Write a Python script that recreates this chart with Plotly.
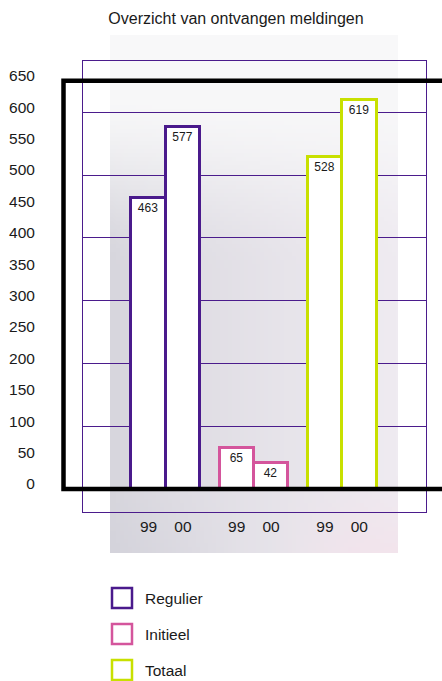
import base64
import struct
import zlib

import numpy as np
import plotly.graph_objects as go

# ---- data -------------------------------------------------------------
TITLE = "Overzicht van ontvangen meldingen"
SERIES = ["Regulier", "Initieel", "Totaal"]
YEARS = ["99", "00"]
REGULIER = [463, 577]
INITIEEL = [65, 42]
TOTAAL = [528, 619]
VALUES = [REGULIER, INITIEEL, TOTAAL]
Y_TICKS = list(range(0, 651, 50))
GRID_LINES = [100, 200, 300, 400, 500, 600]

# ---- style ------------------------------------------------------------
COLORS = ["#4a1a8c", "#d4559c", "#c8e000"]
GRID_COLOR = "#4b1c8c"
FONT = "Liberation Sans, Arial, Helvetica, sans-serif"
TEXT_COLOR = "#1a1a1a"
BAR_W = 0.39

W, H = 442, 681
M_L, M_R, M_T, M_B = 83, 16, 61, 169
PW, PH = W - M_L - M_R, H - M_T - M_B


def px_to_paper(x=None, y=None):
    """Convert page pixels to paper coordinates of the plotting area."""
    out = []
    if x is not None:
        out.append((x - M_L) / PW)
    if y is not None:
        out.append((H - M_B - y) / PH)
    return out[0] if len(out) == 1 else tuple(out)


def png_data_uri(rgb):
    """Encode an (h, w, 3) uint8 array as a PNG data URI."""
    h, w, _ = rgb.shape
    raw = b"".join(b"\x00" + rgb[r].tobytes() for r in range(h))

    def chunk(tag, data):
        c = struct.pack(">I", len(data)) + tag + data
        return c + struct.pack(">I", zlib.crc32(tag + data) & 0xFFFFFFFF)

    png = b"\x89PNG\r\n\x1a\n"
    png += chunk(b"IHDR", struct.pack(">IIBBBBB", w, h, 8, 2, 0, 0, 0))
    png += chunk(b"IDAT", zlib.compress(raw, 9))
    png += chunk(b"IEND", b"")
    return "data:image/png;base64," + base64.b64encode(png).decode()


def backdrop():
    """Soft lavender/grey backdrop panel behind the chart."""
    iw, ih = 72, 130
    u = np.linspace(0, 1, iw)[None, :, None]
    v = np.linspace(0, 1, ih)[:, None, None]
    left = np.array([215, 214, 221], float)
    right = np.array([239, 235, 241], float)
    base = left + (right - left) * (u ** 0.8)
    white = np.array([248, 248, 249], float)
    t = np.clip((v - 0.10) / 0.36, 0, 1)
    t = t * t * (3 - 2 * t)
    img = white + (base - white) * t
    # pinkish tint towards the lower right
    pink = np.array([244, 226, 235], float)
    pb = np.clip((v - 0.86) / 0.14, 0, 1) * np.clip((u - 0.55) / 0.3, 0, 1)
    img = img + (pink - img) * pb * 0.7
    # slightly cooler lower left
    dark = np.array([208, 207, 217], float)
    db = np.clip((v - 0.88) / 0.12, 0, 1) * np.clip(1 - u / 0.45, 0, 1)
    img = img + (dark - img) * db * 0.4
    return png_data_uri(np.clip(img, 0, 255).astype(np.uint8))


fig = go.Figure()

for gi, (name, vals, col) in enumerate(zip(SERIES, VALUES, COLORS)):
    xs = [gi + (j - 0.5) * BAR_W for j in range(len(YEARS))]
    fig.add_bar(
        x=xs,
        y=vals,
        width=BAR_W,
        name=name,
        marker=dict(color="white", line=dict(color=col, width=3)),
        text=[str(v) for v in vals],
        textposition="inside",
        insidetextanchor="end",
        textangle=0,
        constraintext="none",
        textfont=dict(family=FONT, size=12, color=TEXT_COLOR),
        cliponaxis=False,
        showlegend=False,
        hoverinfo="skip",
    )

tick_x = [gi + (j - 0.5) * BAR_W for gi in range(len(SERIES)) for j in range(len(YEARS))]
tick_t = [y for _ in SERIES for y in YEARS]

x_lo = (M_L - 165.7) / 88.2
x_hi = x_lo + PW / 88.2
px_per_unit = 0.628
y_lo = -(H - M_B - 489) / px_per_unit
y_hi = y_lo + PH / px_per_unit

fig.update_layout(
    width=W,
    height=H,
    margin=dict(l=M_L, r=M_R, t=M_T, b=M_B, autoexpand=False),
    paper_bgcolor="white",
    plot_bgcolor="rgba(0,0,0,0)",
    font=dict(family=FONT, size=15.5, color=TEXT_COLOR),
    bargap=0,
    barmode="overlay",
    title=dict(
        text=TITLE,
        x=236 / W,
        xanchor="center",
        y=1 - 18 / H,
        yanchor="middle",
        font=dict(family=FONT, size=16, color=TEXT_COLOR),
    ),
    xaxis=dict(
        range=[x_lo, x_hi],
        tickmode="array",
        tickvals=tick_x,
        ticktext=tick_t,
        ticks="",
        showgrid=False,
        zeroline=False,
        showline=True,
        mirror=True,
        linecolor=GRID_COLOR,
        linewidth=1,
        automargin=False,
        ticklabelstandoff=0,
        tickfont=dict(size=15.5),
    ),
    yaxis=dict(
        range=[y_lo, y_hi],
        tickmode="array",
        tickvals=Y_TICKS,
        ticks="",
        showgrid=False,
        zeroline=False,
        showline=True,
        mirror=True,
        linecolor=GRID_COLOR,
        linewidth=1,
        automargin=False,
        ticklabelstandoff=44,
        ticklabelshift=-5,
        tickfont=dict(size=15.5),
        minor=dict(
            tickmode="array",
            tickvals=GRID_LINES,
            showgrid=True,
            gridcolor=GRID_COLOR,
            gridwidth=1,
            ticks="",
        ),
    ),
    images=[
        dict(
            source=backdrop(),
            xref="paper",
            yref="paper",
            x=px_to_paper(x=110),
            y=px_to_paper(y=35),
            sizex=288 / PW,
            sizey=518 / PH,
            sizing="stretch",
            xanchor="left",
            yanchor="top",
            layer="below",
        )
    ],
)

# heavy black frame: top at 650, baseline at 0, open to the right
fx0 = px_to_paper(x=63.5)
fx1 = 1.1
fig.add_shape(
    type="path",
    xref="paper",
    yref="y",
    path=f"M {fx1},{Y_TICKS[-1]} L {fx0},{Y_TICKS[-1]} L {fx0},0 L {fx1},0",
    line=dict(color="black", width=4.5),
    layer="above",
)

# legend drawn as outlined squares with labels
for i, (name, col) in enumerate(zip(SERIES, COLORS)):
    cy = 598 + i * 36
    ax, ay = px_to_paper(x=122, y=cy)
    fig.add_shape(
        type="rect",
        xref="paper",
        yref="paper",
        xsizemode="pixel",
        ysizemode="pixel",
        xanchor=ax,
        yanchor=ay,
        x0=-10,
        x1=10,
        y0=-10,
        y1=10,
        line=dict(color=col, width=2.5),
        fillcolor="white",
    )
    fig.add_annotation(
        x=px_to_paper(x=143),
        y=ay,
        xref="paper",
        yref="paper",
        text=name,
        showarrow=False,
        xanchor="left",
        yanchor="middle",
        font=dict(family=FONT, size=15.5, color=TEXT_COLOR),
    )

fig.write_html("out.html")
